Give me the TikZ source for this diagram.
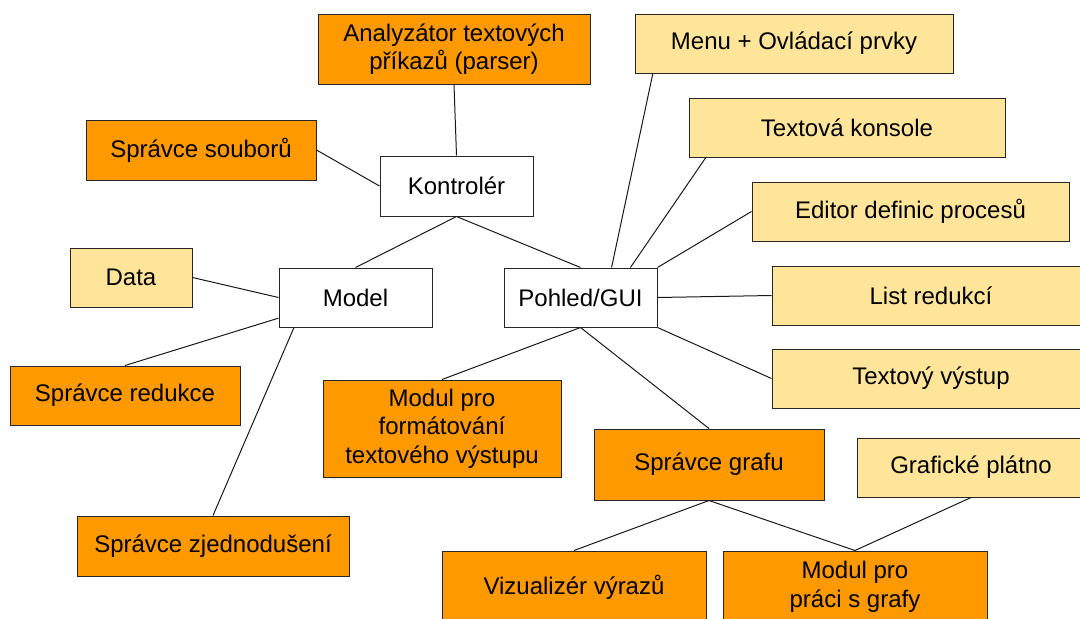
\documentclass[tikz,border=0pt]{standalone}
\usepackage{fontspec}
\setmainfont{Liberation Sans}
\definecolor{mvcorange}{HTML}{FF9900}
\definecolor{mvcyellow}{HTML}{FFE599}
\tikzset{
    mvc box/.style={draw=black!85, line width=1pt, align=center, inner sep=2pt,
                    font=\fontsize{24}{28.5}\selectfont},
    mvc core/.style={mvc box, fill=white},
    mvc part/.style={mvc box, fill=mvcorange},
    mvc view/.style={mvc box, fill=mvcyellow},
    mvc link/.style={line width=1pt, black!90},
}

\begin{document}
\begin{tikzpicture}[x=1pt, y=-1pt]
    \useasboundingbox (0,0) rectangle (1080,619);
    \clip (0,0) rectangle (1080,619);
    % Core: controller, model, view
    \node[mvc core, minimum width=153pt, minimum height=60pt] (kontroler) at (456.5,186) {Kontrolér};
    \node[mvc core, minimum width=153pt, minimum height=59pt] (model) at (355.5,297.5) {Model};
    \node[mvc core, minimum width=153pt, minimum height=59pt] (pohled) at (580.5,297.5) {Pohled/GUI};
    % Controller parts
    \node[mvc part, minimum width=272pt, minimum height=70pt] (parser) at (454,49)
          {Analyzátor textových\\příkazů (parser)};
    \node[mvc part, minimum width=230pt, minimum height=60pt] (soubory) at (201,150) {Správce souborů};
    % Model parts
    \node[mvc view, minimum width=122pt, minimum height=59pt] (data) at (131,277.5) {Data};
    \node[mvc part, minimum width=230pt, minimum height=59pt] (redukce) at (125,395.5) {Správce redukce};
    \node[mvc part, minimum width=272pt, minimum height=60pt] (zjedn) at (213,546) {Správce zjednodušení};
    % View parts
    \node[mvc view, minimum width=318pt, minimum height=59pt] (menu) at (794,43.5) {Menu + Ovládací prvky};
    \node[mvc view, minimum width=316pt, minimum height=59pt] (konzole) at (847,127.5) {Textová konsole};
    \node[mvc view, minimum width=317pt, minimum height=59pt] (editor) at (910.5,211.5) {Editor definic procesů};
    \node[mvc view, minimum width=318pt, minimum height=59pt] (listred) at (931,295.5) {List redukcí};
    \node[mvc view, minimum width=318pt, minimum height=59pt] (vystup) at (931,378.5) {Textový výstup};
    \node[mvc part, minimum width=238pt, minimum height=97pt] (format) at (442,428.5)
          {Modul pro\\formátování\\textového výstupu};
    \node[mvc part, minimum width=230pt, minimum height=71pt] (grafu) at (709,464.5) {Správce grafu};
    \node[mvc view, minimum width=228pt, minimum height=59pt] (platno) at (971,467.5) {Grafické plátno};
    \node[mvc part, minimum width=264pt, minimum height=72pt] (vizual) at (574,587) {Vizualizér výrazů};
    \node[mvc part, minimum width=264pt, minimum height=72pt] (prace) at (855,587)
          {Modul pro\\práci s grafy};
    % Links
    \draw[mvc link] (parser.south) -- (kontroler.north);
    \draw[mvc link] (soubory.east) -- (kontroler.west);
    \draw[mvc link] (kontroler.south) -- (model.north);
    \draw[mvc link] (kontroler.south) -- (pohled.north);
    \draw[mvc link] (data.east) -- (model.west);
    \draw[mvc link] (model.195) -- (redukce.north);
    \draw[mvc link] (model.206) -- (zjedn.north);
    \draw[mvc link] (pohled.44) -- (menu.192);
    \draw[mvc link] (pohled.31) -- (konzole.192);
    \draw[mvc link] (pohled.north east) -- (editor.west);
    \draw[mvc link] (pohled.east) -- (listred.west);
    \draw[mvc link] (pohled.south east) -- (vystup.west);
    \draw[mvc link] (pohled.south) -- (format.north);
    \draw[mvc link] (pohled.south) -- (grafu.north);
    \draw[mvc link] (grafu.south) -- (vizual.north);
    \draw[mvc link] (grafu.south) -- (prace.north);
    \draw[mvc link] (platno.south) -- (prace.north);
\end{tikzpicture}
\end{document}
